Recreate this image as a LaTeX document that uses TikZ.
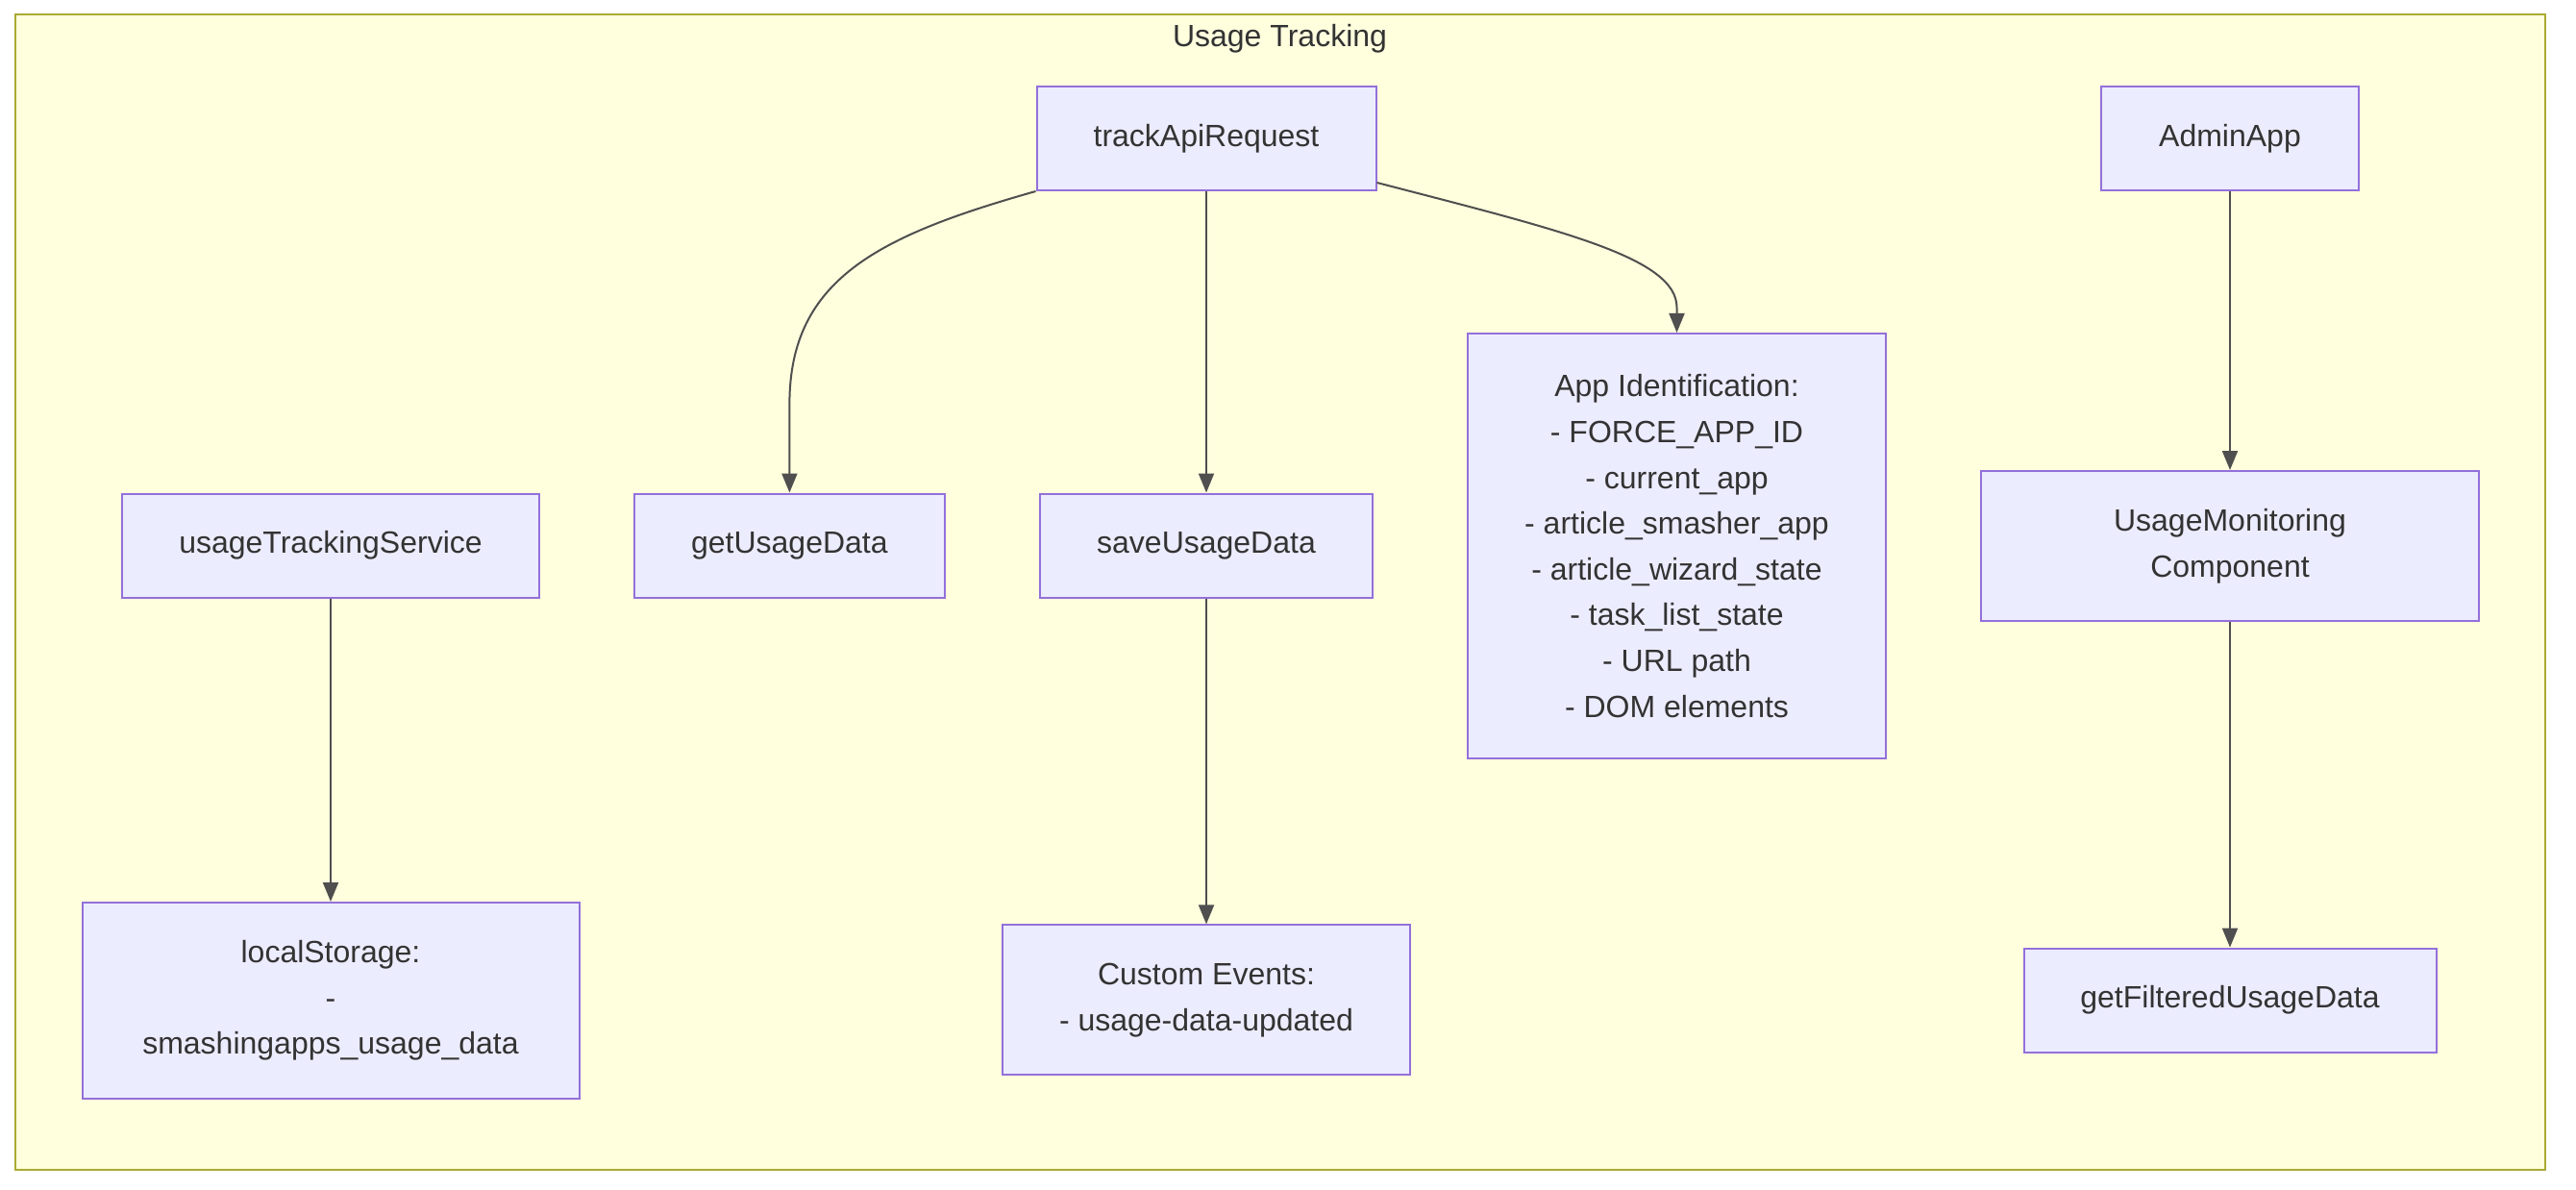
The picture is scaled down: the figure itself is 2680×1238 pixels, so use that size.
\documentclass[tikz,border=0pt]{standalone}
\usepackage{fontspec}
\setmainfont{Liberation Sans}
\usetikzlibrary{arrows.meta}
\definecolor{clfill}{HTML}{FFFFDE}
\definecolor{clstroke}{HTML}{AAAA33}
\definecolor{ndfill}{HTML}{ECECFF}
\definecolor{ndstroke}{HTML}{9370DB}
\definecolor{txt}{HTML}{333333}
\definecolor{edge}{HTML}{4F4F4F}
\begin{document}
\begin{tikzpicture}[x=1pt,y=-1pt,
  box/.style={draw=ndstroke,fill=ndfill,line width=2pt,inner sep=0pt,align=center,
    text=txt,font=\fontsize{32}{47.6}\selectfont},
  flow/.style={draw=edge,line width=2pt,-{Triangle[length=20pt,width=16pt]}}]
\useasboundingbox (0,0) rectangle (2680,1238);
\fill[white] (0,0) rectangle (2680,1238);
\draw[clstroke,fill=clfill,line width=2pt] (15.5,15.5) rectangle (2647.5,1217);
\node[text=txt,font=\fontsize{32}{40}\selectfont] (title) at (1331.5,40) {Usage Tracking};

\node[box,minimum width=353pt,minimum height=108pt] (track) at (1255,144) {trackApiRequest};
\node[box,minimum width=268pt,minimum height=108pt] (admin) at (2320,144) {AdminApp};
\node[box,minimum width=434pt,minimum height=108pt] (uts) at (344,567.5) {usageTrackingService};
\node[box,minimum width=323pt,minimum height=108pt] (get) at (821.4,567.5) {getUsageData};
\node[box,minimum width=346pt,minimum height=108pt] (save) at (1255,567.5) {saveUsageData};
\node[box,minimum width=435pt,minimum height=442pt] (appid) at (1744.5,568) {App Identification:\\- FORCE\_APP\_ID\\- current\_app\\- article\_smasher\_app\\- article\_wizard\_state\\- task\_list\_state\\- URL path\\- DOM elements};
\node[box,minimum width=518pt,minimum height=156pt] (umc) at (2320,568) {UsageMonitoring\\Component};
\node[box,minimum width=517pt,minimum height=204pt] (ls) at (344,1041) {localStorage:\\-\\smashingapps\_usage\_data};
\node[box,minimum width=424pt,minimum height=156pt] (ce) at (1255,1040.4) {Custom Events:\\- usage-data-updated};
\node[box,minimum width=429pt,minimum height=108pt] (gfud) at (2320,1040.6) {getFilteredUsageData};

\draw[flow] (track.south west) .. controls (915,245) and (821.4,290) .. (821.4,420) -- (get.north);
\draw[flow] (track.south) -- (save.north);
\draw[flow] (track.east |- 0,190) .. controls (1625,240) and (1744.5,268) .. (1744.5,320) -- (appid.north);
\draw[flow] (admin.south) -- (umc.north);
\draw[flow] (uts.south) -- (ls.north);
\draw[flow] (save.south) -- (ce.north);
\draw[flow] (umc.south) -- (gfud.north);
\end{tikzpicture}
\end{document}
